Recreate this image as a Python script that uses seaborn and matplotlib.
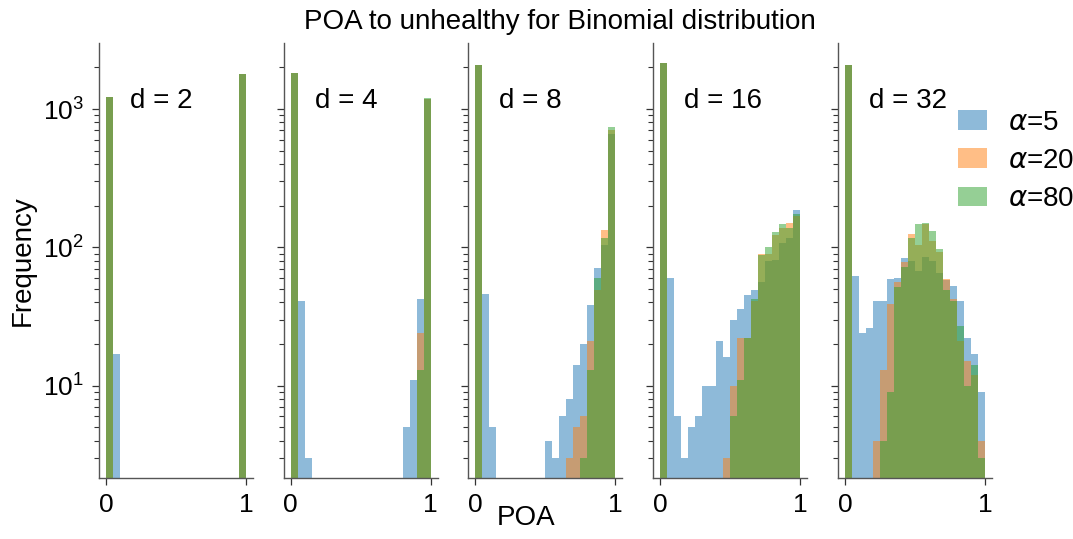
import numpy as np
import pandas as pd
import matplotlib
matplotlib.use("Agg")
import matplotlib.pyplot as plt
import seaborn as sns

plt.rcParams['font.family'] = ['Liberation Sans', 'DejaVu Sans']

# ---- data: counts per bin (20 bins on [0, 1]) ----
dims = [2, 4, 8, 16, 32]
alphas = [5, 20, 80]
n_bins = 20

counts_d2_a5 = [1230, 17, 0, 0, 0, 0, 0, 0, 0, 0, 0, 0, 0, 0, 0, 0, 0, 0, 0, 1790]
counts_d2_a20 = [1230, 0, 0, 0, 0, 0, 0, 0, 0, 0, 0, 0, 0, 0, 0, 0, 0, 0, 0, 1790]
counts_d2_a80 = [1230, 0, 0, 0, 0, 0, 0, 0, 0, 0, 0, 0, 0, 0, 0, 0, 0, 0, 0, 1790]

counts_d4_a5 = [1810, 41, 3, 0, 0, 0, 0, 0, 0, 0, 0, 0, 0, 0, 0, 0, 5, 11, 42, 1190]
counts_d4_a20 = [1810, 0, 0, 0, 0, 0, 0, 0, 0, 0, 0, 0, 0, 0, 0, 0, 0, 0, 24, 1190]
counts_d4_a80 = [1815, 0, 0, 0, 0, 0, 0, 0, 0, 0, 0, 0, 0, 0, 0, 0, 0, 0, 13, 1200]

counts_d8_a5 = [2080, 46, 5, 0, 0, 0, 0, 0, 0, 0, 4, 3, 6, 8, 14, 20, 38, 71, 104, 659]
counts_d8_a20 = [2080, 0, 0, 0, 0, 0, 0, 0, 0, 0, 0, 0, 0, 3, 5, 6, 21, 49, 133, 704]
counts_d8_a80 = [2085, 0, 0, 0, 0, 0, 0, 0, 0, 0, 0, 0, 0, 0, 0, 3, 13, 60, 117, 741]

counts_d16_a5 = [2140, 60, 6, 3, 5, 6, 10, 10, 21, 16, 30, 36, 45, 49, 56, 80, 81, 107, 117, 186]
counts_d16_a20 = [2140, 0, 0, 0, 0, 0, 0, 0, 0, 3, 10, 22, 22, 41, 90, 90, 122, 138, 150, 168]
counts_d16_a80 = [2145, 0, 0, 0, 0, 0, 0, 0, 0, 0, 6, 11, 22, 42, 88, 100, 129, 148, 138, 174]

counts_d32_a5 = [2080, 62, 24, 26, 41, 41, 59, 60, 84, 80, 68, 85, 80, 65, 58, 53, 41, 22, 17, 9]
counts_d32_a20 = [2080, 0, 0, 0, 4, 13, 39, 56, 78, 125, 104, 148, 111, 93, 59, 42, 21, 15, 12, 4]
counts_d32_a80 = [2085, 0, 0, 0, 0, 4, 9, 52, 72, 116, 148, 150, 131, 97, 49, 41, 27, 10, 14, 3]

counts = {
    2: [counts_d2_a5, counts_d2_a20, counts_d2_a80],
    4: [counts_d4_a5, counts_d4_a20, counts_d4_a80],
    8: [counts_d8_a5, counts_d8_a20, counts_d8_a80],
    16: [counts_d16_a5, counts_d16_a20, counts_d16_a80],
    32: [counts_d32_a5, counts_d32_a20, counts_d32_a80],
}

title = "POA to unhealthy for Binomial distribution"
xlabel = "POA"
ylabel = "Frequency"

colors = ["tab:blue", "tab:orange", "tab:green"]
bin_edges = np.linspace(0, 1, n_bins + 1)
centers = (bin_edges[:-1] + bin_edges[1:]) / 2

fig, axes = plt.subplots(1, 5, figsize=(10.73, 5.39), dpi=100, sharey=True)
fig.subplots_adjust(left=0.0923, right=0.9244, top=0.9197, bottom=0.1137, wspace=0.2)

for ax, d in zip(axes, dims):
    for a, c, col in zip(alphas, counts[d], colors):
        df = pd.DataFrame({"poa": centers, "n": c})
        sns.histplot(data=df, x="poa", weights="n", bins=n_bins, binrange=(0, 1),
                     color=col, alpha=0.5, linewidth=0, ax=ax, label=rf"$\alpha$={a}")
    ax.set_yscale("log")
    ax.set_xlim(-0.05, 1.05)
    ax.set_xticks([0, 1])
    ax.set_xlabel("")
    ax.set_ylabel("")
    ax.text(0.2, 0.85, f"d = {d}", transform=ax.transAxes, fontsize=20)
    ax.tick_params(axis="both", which="major", labelsize=19, length=5, width=0.9,
                   pad=6, color="#333333")
    ax.tick_params(axis="y", which="minor", length=3.4, width=0.8, color="#333333")
    for s in ("left", "bottom"):
        ax.spines[s].set_color("#555555")
        ax.spines[s].set_linewidth(1.0)
    sns.despine(ax=ax)

axes[0].set_ylim(2.16, 2990)
axes[0].set_ylabel(ylabel, fontsize=20)
axes[0].yaxis.set_label_coords(-0.41, 0.5)

h, l = axes[-1].get_legend_handles_labels()
axes[-1].legend(h, l, loc="upper left", bbox_to_anchor=(0.615, 0.905), frameon=False,
                fontsize=20, handlelength=1.05, handleheight=0.7,
                handletextpad=0.75, labelspacing=0.44)

fig.text(0.522, 0.96, title, ha="center", va="center", fontsize=20)
fig.text(0.49, 0.015, xlabel, ha="center", va="bottom", fontsize=20)

fig.savefig("out.png", dpi=100)
